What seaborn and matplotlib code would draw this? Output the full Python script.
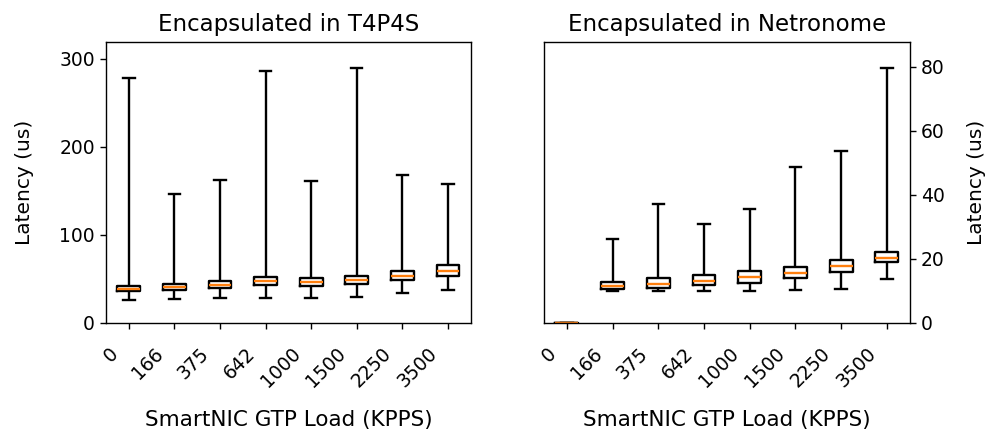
import numpy as np
import pandas as pd
import matplotlib
matplotlib.use("Agg")
import matplotlib.pyplot as plt
import matplotlib.transforms as mtransforms
import seaborn as sns

loads = ["0", "166", "375", "642", "1000", "1500", "2250", "3500"]

# five-number summaries per load: min, q1, median, q3, max
t4p4s_min = [25.7, 27.2, 28.3, 28.7, 28.7, 29.9, 34.0, 37.0]
t4p4s_q1 = [36.3, 37.8, 39.7, 43.1, 42.0, 44.3, 48.8, 53.0]
t4p4s_med = [39.0, 41.3, 43.5, 47.7, 46.5, 49.2, 53.8, 58.7]
t4p4s_q3 = [42.4, 44.7, 47.3, 51.9, 50.7, 53.8, 59.0, 65.6]
t4p4s_max = [278.0, 146.6, 162.0, 286.4, 161.0, 289.8, 168.0, 158.0]

nfp_min = [0.0, 9.9, 9.9, 10.1, 10.1, 10.2, 10.7, 13.6]
nfp_q1 = [0.0, 10.6, 10.9, 11.7, 12.5, 13.9, 15.8, 19.1]
nfp_med = [0.0, 11.5, 12.3, 13.1, 14.2, 15.5, 17.7, 20.4]
nfp_q3 = [0.0, 12.8, 14.0, 15.1, 16.1, 17.6, 19.7, 22.2]
nfp_max = [0.0, 26.3, 37.1, 31.0, 35.7, 48.7, 53.6, 79.8]


def frame(mins, q1s, meds, q3s, maxs):
    rows = []
    for i, lab in enumerate(loads):
        for v in (mins[i], q1s[i], meds[i], q3s[i], maxs[i]):
            rows.append({"load": lab, "latency": v})
    return pd.DataFrame(rows)


df_left = frame(t4p4s_min, t4p4s_q1, t4p4s_med, t4p4s_q3, t4p4s_max)
df_right = frame(nfp_min, nfp_q1, nfp_med, nfp_q3, nfp_max)

plt.rcParams["font.family"] = ["DejaVu Sans"]

fig = plt.figure(figsize=(9.91, 4.37), dpi=100)
ax1 = fig.add_axes([0.107, 0.261, 0.368, 0.643])
ax2 = fig.add_axes([0.549, 0.261, 0.369, 0.643])

box_kw = dict(x="load", y="latency", order=loads, whis=(0, 100), width=0.5,
              fill=False, color="black", linewidth=1.7, showfliers=False,
              medianprops={"color": "#ff7f0e", "linewidth": 1.7})

sns.boxplot(data=df_left, ax=ax1, **box_kw)
sns.boxplot(data=df_right, ax=ax2, **box_kw)

ax1.set_ylim(0, 319)
ax2.set_ylim(0, 87.8)
ax1.set_yticks([0, 100, 200, 300])
ax2.set_yticks([0, 20, 40, 60, 80])
ax2.yaxis.tick_right()
ax2.yaxis.set_label_position("right")

offset = mtransforms.ScaledTranslation(-0.07, -0.10, fig.dpi_scale_trans)
for ax, title in ((ax1, "Encapsulated in T4P4S"), (ax2, "Encapsulated in Netronome")):
    ax.set_xlim(-0.5, 7.5)
    ax.set_title(title, fontsize=16.5, pad=8)
    ax.set_xlabel("SmartNIC GTP Load (KPPS)", fontsize=15.5)
    ax.set_ylabel("Latency (us)", fontsize=14.5)
    ax.tick_params(axis="both", labelsize=13.5, length=4.5, width=1.0)
    ax.set_xticks(range(len(loads)))
    ax.set_xticklabels(loads, rotation=45, ha="right")
    for lab in ax.get_xticklabels():
        lab.set_transform(lab.get_transform() + offset)
    for s in ax.spines.values():
        s.set_linewidth(1.0)
        s.set_visible(True)
    ax.xaxis.set_label_coords(0.5, -0.31)

ax1.yaxis.set_label_coords(-0.197, 0.5)
ax2.yaxis.set_label_coords(1.156, 0.5)

fig.savefig("out.png", dpi=100)
